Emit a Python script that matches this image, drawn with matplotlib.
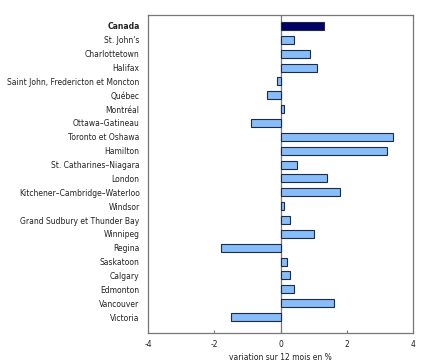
import matplotlib
matplotlib.use("Agg")
import matplotlib.pyplot as plt

categories = ["Canada", "St. John's", "Charlottetown", "Halifax",
              "Saint John, Fredericton et Moncton", "Québec", "Montréal",
              "Ottawa–Gatineau", "Toronto et Oshawa", "Hamilton",
              "St. Catharines–Niagara", "London", "Kitchener–Cambridge–Waterloo",
              "Windsor", "Grand Sudbury et Thunder Bay", "Winnipeg", "Regina",
              "Saskatoon", "Calgary", "Edmonton", "Vancouver", "Victoria"]
values = [1.3, 0.4, 0.9, 1.1, -0.1, -0.4, 0.1, -0.9, 3.4, 3.2, 0.5, 1.4, 1.8,
          0.1, 0.3, 1.0, -1.8, 0.2, 0.3, 0.4, 1.6, -1.5]
xticks = [-4, -2, 0, 2, 4]
xlabel = "variation sur 12 mois en %"

fig = plt.figure(figsize=(4.36, 3.64), dpi=100)
ax = fig.add_axes([148/436, 1 - 333/364, (413-148)/436, (333-15)/364])

ypos = list(range(len(categories)))
colors = ["#000066"] + ["#87BDF8"] * (len(categories) - 1)
ax.barh(ypos, values, height=0.58, color=colors, edgecolor="#1f2a44", linewidth=0.8, zorder=3)
ax.axvline(0, color="#777777", linewidth=0.9, zorder=2)

ax.set_xlim(-4, 4)
ax.set_ylim(len(categories) - 1 + 1.15, -0.79)
ax.set_yticks(ypos)
ax.set_yticklabels(categories, fontsize=5.5)
for lbl in ax.get_yticklabels():
    if lbl.get_text() == "Canada":
        lbl.set_fontweight("bold")
ax.tick_params(axis="y", length=0, pad=6, labelcolor="#222222")
ax.set_xticks(xticks)
ax.set_xticklabels([str(t) for t in xticks], fontsize=5.5, color="#222222")
ax.tick_params(axis="x", direction="in", length=2.5, color="#777777", pad=5)
ax.set_xlabel(xlabel, fontsize=5.5, color="#222222", labelpad=3)
for s in ax.spines.values():
    s.set_color("#777777")
    s.set_linewidth(0.9)

fig.savefig("out.png", dpi=100)
